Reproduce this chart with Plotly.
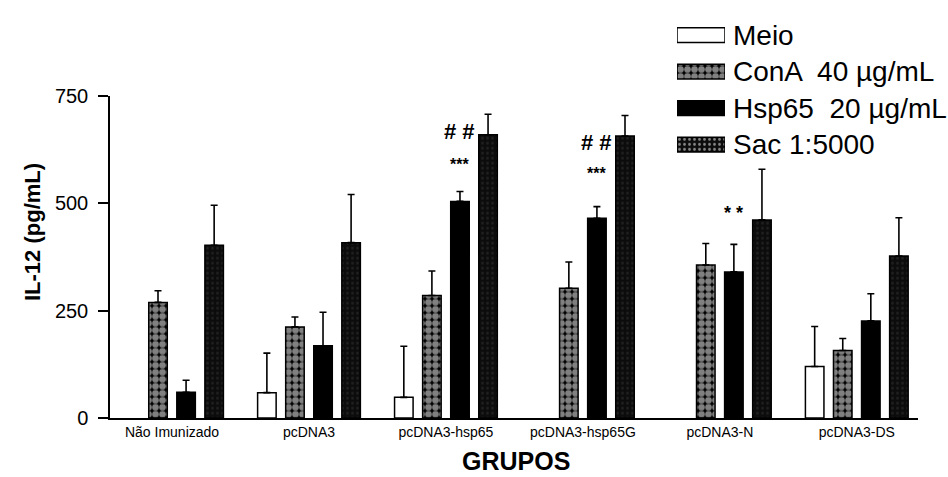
import plotly.graph_objects as go

# IL-12 production (pg/mL) per immunisation group and stimulus
grupos = ["Não Imunizado", "pcDNA3", "pcDNA3-hsp65", "pcDNA3-hsp65G", "pcDNA3-N", "pcDNA3-DS"]

meio = [None, 59, 48, None, None, 120]
meio_sd = [None, 92, 119, None, None, 93]

cona = [269, 212, 285, 302, 356, 157]
cona_sd = [27, 23, 57, 61, 50, 28]

hsp65 = [60, 168, 504, 465, 340, 226]
hsp65_sd = [28, 78, 23, 27, 64, 63]

sac = [402, 408, 659, 656, 461, 377]
sac_sd = [93, 112, 48, 48, 118, 89]

serie_nomes = ["Meio", "ConA  40 µg/mL", "Hsp65  20 µg/mL", "Sac 1:5000"]
y_ticks = [0, 250, 500, 750]

# significance marks placed above the Hsp65 bars: (group, text, value, font size)
marcas = [
    ("pcDNA3-hsp65", "# #", 666, 22),
    ("pcDNA3-hsp65", "***", 590, 16),
    ("pcDNA3-hsp65G", "# #", 640, 22),
    ("pcDNA3-hsp65G", "***", 570, 16),
    ("pcDNA3-N", "* *", 478, 18),
]

FONT = "Liberation Sans, Arial, sans-serif"

estilos = [
    dict(color="white", pattern=dict(shape="")),
    # black mesh with round white holes
    dict(color="black", pattern=dict(shape=".", fgcolor="white", bgcolor="black",
                                     size=7, solidity=0.72)),
    dict(color="black", pattern=dict(shape="")),
    dict(color="#0c0c0c", pattern=dict(shape=".", fgcolor="#333333", bgcolor="#0c0c0c",
                                       size=5, solidity=0.25)),
]

valores = [meio, cona, hsp65, sac]
desvios = [meio_sd, cona_sd, hsp65_sd, sac_sd]

fig = go.Figure()

for nome, vals, sd, est in zip(serie_nomes, valores, desvios, estilos):
    fig.add_trace(go.Bar(
        x=grupos, y=vals, name=nome, showlegend=False,
        marker=dict(color=est["color"], pattern=est["pattern"],
                    line=dict(color="black", width=1.5)),
        error_y=dict(type="data", array=sd, arrayminus=[0] * len(sd),
                     symmetric=False, color="black", thickness=1.6, width=3.5),
    ))

# legend swatches drawn as horizontal bars in a small inset axis
fig.add_trace(go.Bar(
    x=[1, 1, 1, 1], y=[0, 1, 2, 3], orientation="h", width=0.4,
    xaxis="x2", yaxis="y2", showlegend=False, hoverinfo="skip",
    marker=dict(
        color=[e["color"] for e in estilos],
        pattern=dict(
            shape=[e["pattern"]["shape"] for e in estilos],
            fgcolor=[e["pattern"].get("fgcolor", "black") for e in estilos],
            bgcolor=[e["pattern"].get("bgcolor", e["color"]) for e in estilos],
            size=[e["pattern"].get("size", 8) for e in estilos],
            solidity=[e["pattern"].get("solidity", 0.3) for e in estilos],
        ),
        line=dict(color="black", width=1.5),
    ),
))

annotations = []
for i, nome in enumerate(serie_nomes):
    annotations.append(dict(
        x=(731 - 110) / 808, y=i, xref="paper", yref="y2", text=nome, showarrow=False,
        xanchor="left", yanchor="middle", font=dict(family=FONT, size=28, color="black"),
    ))

for grupo, txt, val, fs in marcas:
    annotations.append(dict(
        x=grupo, y=val, xref="x", yref="y", text=f"<b>{txt}</b>", showarrow=False,
        xshift=14, yanchor="middle", font=dict(family=FONT, size=fs, color="black"),
    ))

annotations.append(dict(
    x=0.503, y=0, xref="paper", yref="paper", yshift=-43, text="<b>GRUPOS</b>",
    showarrow=False, yanchor="middle", borderpad=0,
    font=dict(family=FONT, size=25, color="black"),
))
annotations.append(dict(
    x=-0.0965, y=0.457, xref="paper", yref="paper", text="<b>IL-12 (pg/mL)</b>",
    textangle=-90, showarrow=False, xanchor="center", yanchor="middle",
    font=dict(family=FONT, size=22, color="black"),
))

fig.update_layout(
    width=948, height=477,
    margin=dict(l=110, r=30, t=0, b=59),
    paper_bgcolor="white", plot_bgcolor="white",
    barmode="group", bargap=0.18, bargroupgap=0.34,
    font=dict(family=FONT, color="black"),
    annotations=annotations,
    xaxis=dict(
        range=[-0.453, 5.447], showline=True, linecolor="black", linewidth=1.5,
        ticks="", showgrid=False, zeroline=False,
        tickfont=dict(family=FONT, size=14, color="black"),
    ),
    yaxis=dict(
        domain=[0, 331 / 418], range=[0, 750], tickvals=y_ticks,
        showline=True, linecolor="black", linewidth=1.5,
        ticks="outside", ticklen=10, tickwidth=1.5, tickcolor="black",
        ticklabelstandoff=6, showgrid=False, zeroline=False,
        tickfont=dict(family=FONT, size=20, color="black"),
    ),
    xaxis2=dict(domain=[(677 - 110) / 808, (725 - 110) / 808], range=[0, 1],
                visible=False, anchor="y2", fixedrange=True),
    yaxis2=dict(domain=[(418 - 156) / 418, (418 - 6) / 418], range=[3.5, -0.5],
                visible=False, anchor="x2", fixedrange=True),
)

fig.write_html("out.html")
